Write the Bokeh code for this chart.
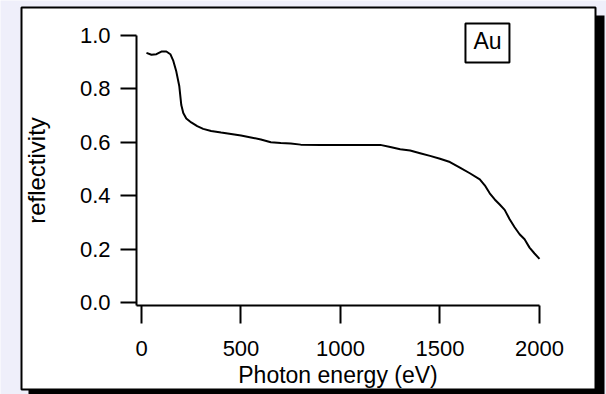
from bokeh.plotting import figure
from bokeh.models import (Range1d, FixedTicker, BoxAnnotation, Label, LinearAxis,
                          PrintfTickFormatter)
from bokeh.embed import file_html
from bokeh.resources import INLINE

# Data (Au reflectivity vs photon energy)
energy = [25, 50, 75, 100, 125, 145, 160, 175, 190, 200, 210, 225, 250, 280, 310,
          350, 400, 450, 500, 550, 600, 650, 700, 750, 800, 900, 1000, 1100, 1200,
          1250, 1300, 1350, 1400, 1450, 1500, 1550, 1600, 1650, 1700, 1725, 1750,
          1775, 1800, 1825, 1850, 1875, 1900, 1925, 1950, 1975, 2000]
reflectivity = [0.935, 0.928, 0.930, 0.940, 0.940, 0.930, 0.905, 0.865, 0.810, 0.740,
                0.710, 0.690, 0.675, 0.661, 0.651, 0.643, 0.637, 0.632, 0.626, 0.619,
                0.611, 0.601, 0.598, 0.596, 0.592, 0.591, 0.591, 0.591, 0.591, 0.583,
                0.575, 0.570, 0.560, 0.550, 0.539, 0.527, 0.506, 0.485, 0.462, 0.440,
                0.410, 0.387, 0.368, 0.348, 0.313, 0.283, 0.257, 0.238, 0.207, 0.185,
                0.165]
x_ticks = [0, 500, 1000, 1500, 2000]
y_ticks = [0.0, 0.2, 0.4, 0.6, 0.8, 1.0]
label_text = "Au"

FONT = "Liberation Sans"
BG = "#EFEFFA"

# the plot frame covers the whole canvas; axes are placed at fixed data positions
p = figure(width=606, height=394, output_backend="svg", toolbar_location=None,
           x_range=Range1d(-708.5, 2336.7), y_range=Range1d(-0.3421, 1.1308),
           min_border=0, title=None, x_axis_type=None, y_axis_type=None)
p.border_fill_color = BG
p.background_fill_color = BG
p.outline_line_color = None
p.grid.visible = False


def canvas_box(l, r, t, b, fill=None, line=None, lw=0):
    return BoxAnnotation(left=l, right=r, top=t, bottom=b,
                         left_units="canvas", right_units="canvas",
                         top_units="canvas", bottom_units="canvas",
                         fill_color=fill, fill_alpha=1.0 if fill else 0.0,
                         line_color=line, line_width=lw, line_alpha=1.0 if line else 0.0,
                         level="underlay")


# drop shadow and white panel with black border
p.add_layout(canvas_box(28, 604, 15, 398, fill="black"))
p.add_layout(canvas_box(21, 595, 7, 389, fill="white", line="black", lw=2))

p.line(energy, reflectivity, line_color="black", line_width=2)

xaxis = LinearAxis(fixed_location=-0.0112, bounds=(-25, 2000))
yaxis = LinearAxis(fixed_location=-25.1, bounds=(-0.0112, 1.0001))
p.add_layout(xaxis, "below")
p.add_layout(yaxis, "left")

for ax in (xaxis, yaxis):
    ax.axis_line_width = 2
    ax.major_tick_line_width = 2
    ax.major_tick_in = 0
    ax.minor_tick_out = 0
    ax.minor_tick_in = 0
    ax.major_label_text_font = FONT
    ax.major_label_text_font_size = "22px"
    ax.major_label_text_color = "black"
    ax.axis_label_text_font = FONT
    ax.axis_label_text_font_style = "normal"
    ax.axis_label_text_color = "black"

xaxis.axis_label_text_font_size = "23px"
yaxis.axis_label_text_font_size = "24px"
xaxis.ticker = FixedTicker(ticks=x_ticks)
yaxis.ticker = FixedTicker(ticks=y_ticks)
yaxis.formatter = PrintfTickFormatter(format="%.1f")
xaxis.major_tick_out = 18
yaxis.major_tick_out = 16
xaxis.major_label_standoff = 17
yaxis.major_label_standoff = 10
xaxis.axis_label = "Photon energy (eV)"
yaxis.axis_label = "reflectivity"
xaxis.axis_label_standoff = 3
yaxis.axis_label_standoff = 27

# "Au" box
p.add_layout(BoxAnnotation(left=1628, right=1849, bottom=0.899, top=1.045,
                           fill_color="white", fill_alpha=1.0,
                           line_color="black", line_width=2, line_alpha=1.0))
lab = Label(x=1739, y=0.98, text=label_text, text_align="center",
            text_baseline="middle", text_font=FONT, text_font_size="23px",
            text_color="black")
p.add_layout(lab)

open("out.html", "w").write(file_html(p, INLINE))
